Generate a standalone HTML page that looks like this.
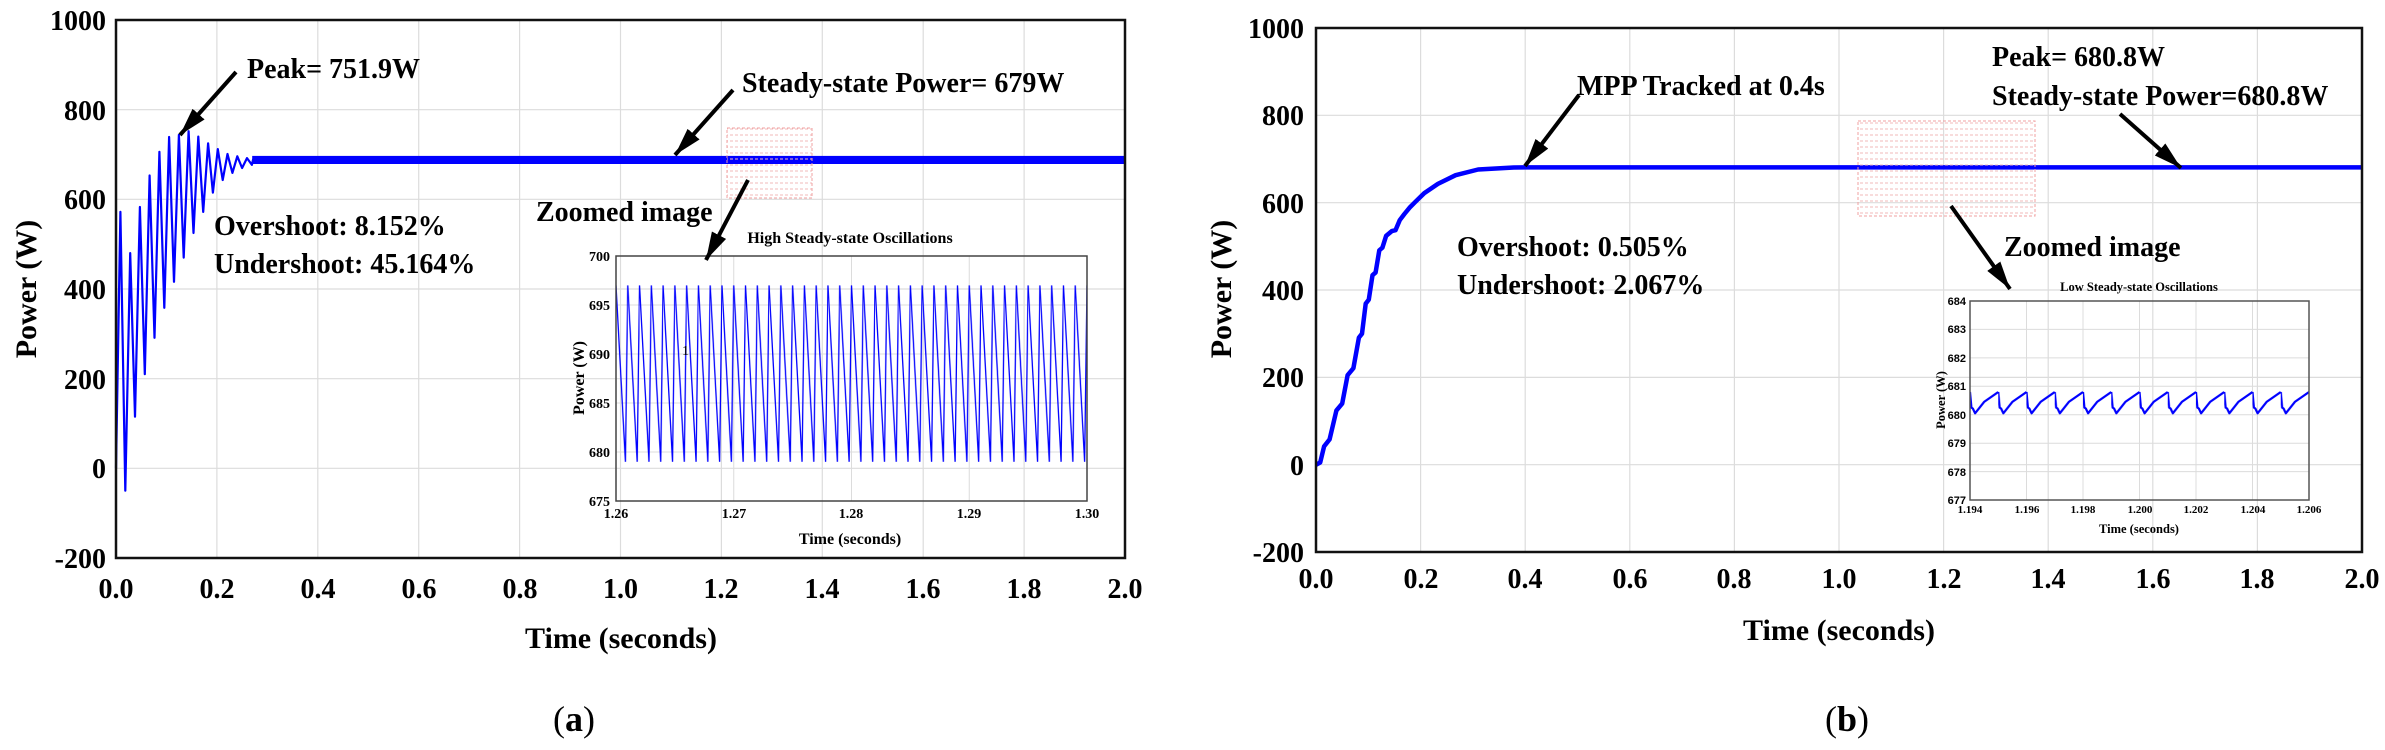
<!DOCTYPE html>
<html><head><meta charset="utf-8"><style>
html,body{margin:0;padding:0;background:#fff;}
svg{display:block;font-family:"Liberation Serif",serif;font-weight:bold;}
</style></head><body>
<svg width="2385" height="750" viewBox="0 0 2385 750" xmlns="http://www.w3.org/2000/svg">
<defs>
<marker id="ah" markerUnits="userSpaceOnUse" markerWidth="30" markerHeight="20" refX="28" refY="8" orient="auto"><path d="M0,0 L28,8 L0,16 Z" fill="#000"/></marker>
<pattern id="rd" width="5" height="6" patternUnits="userSpaceOnUse"><path d="M0,3 L3,3" stroke="#f2b8b8" stroke-width="1"/></pattern>
<pattern id="sawL" x="616" y="0" width="11.775" height="750" patternUnits="userSpaceOnUse"><path d="M0,285.4 L9.42,461.8 L11.775,285.4" fill="none" stroke="#0000ff" stroke-width="1.3"/></pattern>
<pattern id="sawR" x="1970" y="0" width="28.25" height="750" patternUnits="userSpaceOnUse"><path d="M0,392 L1.41,407.6 L2.83,408.5 L5.09,413.3 L14.1,401.9 L28.25,392" fill="none" stroke="#0000ff" stroke-width="2.2" stroke-linejoin="round"/></pattern>
</defs>
<g stroke="#dcdcdc" stroke-width="1.2">
<path d="M216.9,20V558M317.8,20V558M418.7,20V558M519.6,20V558M620.5,20V558M721.4,20V558M822.3,20V558M923.2,20V558M1024.1,20V558"/>
<path d="M116,109.7H1125M116,199.3H1125M116,289H1125M116,378.7H1125M116,468.3H1125"/>
<path d="M1420.6,28V552M1525.2,28V552M1629.8,28V552M1734.4,28V552M1839,28V552M1943.6,28V552M2048.2,28V552M2152.8,28V552M2257.4,28V552"/>
<path d="M1316,115.3H2362M1316,202.7H2362M1316,290H2362M1316,377.4H2362M1316,464.7H2362"/>
</g>
<!-- left data -->
<path d="M116,468.3 L120.4,211.9 L125.3,490.7 L130.2,253.1 L135,416.7 L139.9,207 L144.8,374.2 L149.6,175.5 L154.5,337.8 L159.4,151.8 L164.3,307.8 L169.1,137 L174,281.8 L178.9,134.8 L183.7,257.6 L188.6,131.2 L193.5,233 L198.3,136.6 L203.2,211.9 L208.1,143.3 L212.9,192.6 L217.8,149.1 L222.7,180 L227.5,154 L232.4,172.9 L237.3,156.3 L242.1,168 L247,158.1 L251.9,164.8 L253.2,159" fill="none" stroke="#0000ff" stroke-width="2.2" stroke-linejoin="round"/>
<rect x="252.2" y="155.9" width="872.8" height="8.1" fill="#0000ff"/>
<!-- right data -->
<path d="M1316,464.7 L1320.2,462.5 L1324.1,446.4 L1329.6,439.4 L1336.4,410.5 L1342.2,403.6 L1347.6,375.2 L1353.4,368.2 L1358.9,337.6 L1362,333.7 L1365.7,303.6 L1368.8,299.6 L1372.5,275.2 L1375.6,272.5 L1379.3,250.3 L1382.4,247.7 L1386.1,235.9 L1391.8,231.1 L1395.5,230.2 L1399.7,220.2 L1404.4,214 L1410.1,207.1 L1415.4,201.8 L1424.3,193.1 L1437.9,183.9 L1455.6,175.2 L1478.1,169.5 L1513.7,167.5 L1527.3,167.4 L2362,167.4" fill="none" stroke="#0000ff" stroke-width="4.5" stroke-linejoin="round"/>
<rect x="116" y="20" width="1009" height="538" fill="none" stroke="#111" stroke-width="2.5"/>
<rect x="1316" y="28" width="1046" height="524" fill="none" stroke="#111" stroke-width="2.5"/>
<g font-size="28" text-anchor="end">
<text x="106" y="30">1000</text><text x="106" y="120">800</text><text x="106" y="209">600</text><text x="106" y="299">400</text><text x="106" y="389">200</text><text x="106" y="478">0</text><text x="106" y="568">-200</text>
<text x="1304" y="38">1000</text><text x="1304" y="125">800</text><text x="1304" y="213">600</text><text x="1304" y="300">400</text><text x="1304" y="387">200</text><text x="1304" y="475">0</text><text x="1304" y="562">-200</text>
</g>
<g font-size="28" text-anchor="middle">
<text x="116" y="598">0.0</text><text x="217" y="598">0.2</text><text x="318" y="598">0.4</text><text x="419" y="598">0.6</text><text x="520" y="598">0.8</text><text x="620.5" y="598">1.0</text><text x="721" y="598">1.2</text><text x="822" y="598">1.4</text><text x="923" y="598">1.6</text><text x="1024" y="598">1.8</text><text x="1125" y="598">2.0</text>
<text x="1316" y="588">0.0</text><text x="1421" y="588">0.2</text><text x="1525" y="588">0.4</text><text x="1630" y="588">0.6</text><text x="1734" y="588">0.8</text><text x="1839" y="588">1.0</text><text x="1944" y="588">1.2</text><text x="2048" y="588">1.4</text><text x="2153" y="588">1.6</text><text x="2257" y="588">1.8</text><text x="2362" y="588">2.0</text>
</g>
<g font-size="30" text-anchor="middle">
<text x="621" y="648">Time (seconds)</text>
<text x="1839" y="640">Time (seconds)</text>
<text transform="translate(36,289) rotate(-90)">Power (W)</text>
<text transform="translate(1231,289) rotate(-90)">Power (W)</text>
</g>
<g font-size="36" font-weight="normal" text-anchor="middle">
<text x="574" y="731">(<tspan font-weight="bold">a</tspan>)</text>
<text x="1847" y="731">(<tspan font-weight="bold">b</tspan>)</text>
</g>
<g font-size="28">
<text x="247" y="78">Peak= 751.9W</text>
<text x="214" y="235">Overshoot: 8.152%</text>
<text x="214" y="273">Undershoot: 45.164%</text>
<text x="742" y="92">Steady-state Power= 679W</text>
<text x="536" y="221">Zoomed image</text>
<text x="1577" y="95">MPP Tracked at 0.4s</text>
<text x="1457" y="256">Overshoot: 0.505%</text>
<text x="1457" y="294">Undershoot: 2.067%</text>
<text x="1992" y="66">Peak= 680.8W</text>
<text x="1992" y="105">Steady-state Power=680.8W</text>
<text x="2004" y="256">Zoomed image</text>
</g>
<rect x="727" y="128" width="85" height="70" fill="url(#rd)" stroke="#f0a0a0" stroke-width="1" stroke-dasharray="3,2"/>
<rect x="1858" y="121" width="177" height="95" fill="url(#rd)" stroke="#f0a0a0" stroke-width="1" stroke-dasharray="3,2"/>
<!-- left inset -->
<g stroke="#dcdcdc" stroke-width="1">
<path d="M733.75,256V501M851.5,256V501M969.25,256V501M616,305H1087M616,354H1087M616,403H1087M616,452H1087"/>
<path d="M2026.5,301V500M2083,301V500M2139.5,301V500M2196,301V500M2252.5,301V500M1970,329.4H2309M1970,357.9H2309M1970,386.3H2309M1970,414.7H2309M1970,443.2H2309M1970,471.6H2309"/>
</g>
<rect x="616" y="282" width="471" height="183" fill="url(#sawL)"/>
<rect x="1970" y="385" width="339" height="32" fill="url(#sawR)"/>
<rect x="616" y="256" width="471" height="245" fill="none" stroke="#444" stroke-width="1.5"/>
<rect x="1970" y="301" width="339" height="199" fill="none" stroke="#555" stroke-width="1.5"/>
<g font-size="16" text-anchor="middle">
<text x="850" y="243">High Steady-state Oscillations</text>
<text x="850" y="544">Time (seconds)</text>
<text transform="translate(584,378) rotate(-90)">Power (W)</text>
</g>
<g font-size="14" text-anchor="end">
<text x="610" y="261">700</text><text x="610" y="310">695</text><text x="610" y="359">690</text><text x="610" y="408">685</text><text x="610" y="457">680</text><text x="610" y="506">675</text>
</g>
<g font-size="14" text-anchor="middle">
<text x="616" y="518">1.26</text><text x="734" y="518">1.27</text><text x="851" y="518">1.28</text><text x="969" y="518">1.29</text><text x="1087" y="518">1.30</text>
</g>
<text x="682" y="355" font-size="14" font-weight="normal">1</text>
<g font-size="12.5" text-anchor="middle">
<text x="2139" y="291">Low Steady-state Oscillations</text>
<text x="2139" y="533">Time (seconds)</text>
<text transform="translate(1945,400) rotate(-90)">Power (W)</text>
</g>
<g font-size="11" font-family="Liberation Sans, sans-serif" text-anchor="end">
<text x="1966" y="305">684</text><text x="1966" y="333">683</text><text x="1966" y="362">682</text><text x="1966" y="390">681</text><text x="1966" y="419">680</text><text x="1966" y="447">679</text><text x="1966" y="476">678</text><text x="1966" y="504">677</text>
</g>
<g font-size="11" text-anchor="middle">
<text x="1970" y="513">1.194</text><text x="2027" y="513">1.196</text><text x="2083" y="513">1.198</text><text x="2140" y="513">1.200</text><text x="2196" y="513">1.202</text><text x="2253" y="513">1.204</text><text x="2309" y="513">1.206</text>
</g>
<g stroke="#000" stroke-width="4" marker-end="url(#ah)">
<line x1="236" y1="72" x2="180" y2="135"/>
<line x1="733" y1="90" x2="675" y2="155"/>
<line x1="748" y1="180" x2="706" y2="260"/>
<line x1="1579" y1="95" x2="1525" y2="166"/>
<line x1="2120" y1="114" x2="2181" y2="168"/>
<line x1="1951" y1="206" x2="2010" y2="289"/>
</g>
</svg>
</body></html>
